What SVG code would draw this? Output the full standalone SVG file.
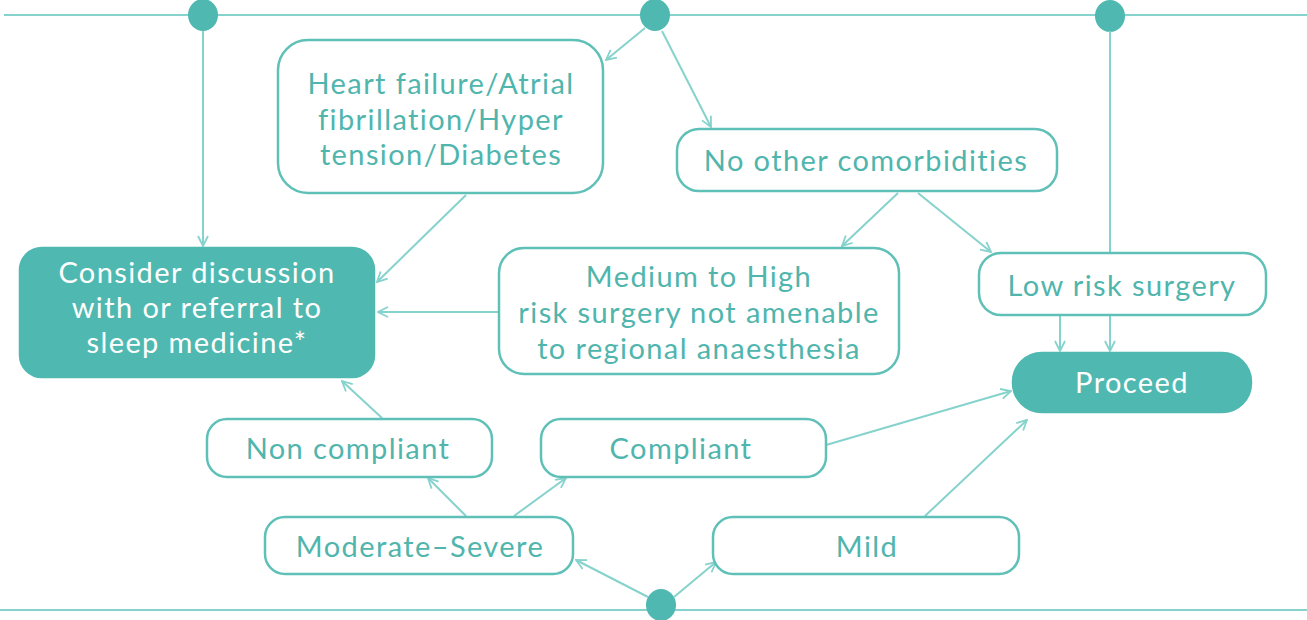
<svg xmlns="http://www.w3.org/2000/svg" width="1307" height="620" viewBox="0 0 1307 620">
<defs>
<style>
.box{fill:#fff;stroke:#5fc0b8;stroke-width:2.5}
.fill{fill:#4fb9b1;stroke:#4fb9b1;stroke-width:2.5}
.t{font-family:Lato,"Noto Sans",sans-serif;font-size:29px;letter-spacing:1.4px;fill:#4fb5ad;text-anchor:middle}
.tw{font-family:Lato,"Noto Sans",sans-serif;font-size:29px;letter-spacing:1.4px;fill:#fff;text-anchor:middle}
.c{stroke:#86d2cc;stroke-width:2;fill:none}
.a{stroke:#86d2cc;stroke-width:2;fill:none;marker-end:url(#ah)}
.dot{fill:#4fb9b1}
</style>
<marker id="ah" viewBox="0 0 12 12" refX="11" refY="6" markerWidth="12" markerHeight="12" markerUnits="userSpaceOnUse" orient="auto">
<path d="M1,1 L11,6 L1,11" fill="none" stroke="#86d2cc" stroke-width="1.8"/>
</marker>
</defs>
<rect width="1307" height="620" fill="#fff"/>
<g id="rails">
<line class="c" x1="4" y1="15" x2="1307" y2="15" stroke-width="3"/>
<line class="c" x1="0" y1="610" x2="1307" y2="610" stroke-width="3"/>
<ellipse class="dot" cx="203" cy="15" rx="15" ry="16"/>
<ellipse class="dot" cx="655" cy="15" rx="15" ry="16"/>
<ellipse class="dot" cx="1110" cy="16" rx="15" ry="16"/>
<ellipse class="dot" cx="661" cy="605" rx="15" ry="16"/>
</g>
<g id="connectors">
<line class="a" x1="203" y1="31" x2="203" y2="246"/>
<line class="a" x1="645" y1="28" x2="606" y2="60"/>
<line class="a" x1="662" y1="31" x2="711" y2="127"/>
<line class="a" x1="466" y1="195" x2="377" y2="282"/>
<line class="a" x1="898" y1="193" x2="842" y2="246"/>
<line class="a" x1="918" y1="193" x2="991" y2="252"/>
<line class="c" x1="1110" y1="31" x2="1110" y2="253"/>
<line class="a" x1="1110" y1="316" x2="1110" y2="351"/>
<line class="a" x1="1060" y1="316" x2="1060" y2="351"/>
<line class="a" x1="499" y1="312" x2="378" y2="312"/>
<line class="a" x1="382" y1="418" x2="342" y2="381"/>
<line class="a" x1="466" y1="516" x2="428" y2="478"/>
<line class="a" x1="514" y1="516" x2="566" y2="478"/>
<line class="a" x1="826" y1="445" x2="1011" y2="391"/>
<line class="a" x1="925" y1="516" x2="1027" y2="420"/>
<line class="a" x1="648" y1="597" x2="576" y2="560"/>
<line class="a" x1="674" y1="597" x2="716" y2="562"/>
</g>
<g id="heart"><rect class="box" x="278" y="40" width="325" height="153" rx="30"/>
<text class="t" x="441" y="94">Heart failure/Atrial</text>
<text class="t" x="441" y="130">fibrillation/Hyper</text>
<text class="t" x="441" y="165">tension/Diabetes</text></g>
<g id="nocomorb"><rect class="box" x="677" y="129" width="380" height="62" rx="22"/>
<text class="t" x="866" y="171">No other comorbidities</text></g>
<g id="consider"><rect class="fill" x="20" y="248" width="354" height="129" rx="22"/>
<text class="tw" x="197" y="283">Consider discussion</text>
<text class="tw" x="197" y="318">with or referral to</text>
<text class="tw" x="197" y="353">sleep medicine*</text></g>
<g id="medium"><rect class="box" x="499" y="248" width="400" height="126" rx="25"/>
<text class="t" x="699" y="287">Medium to High</text>
<text class="t" x="699" y="323">risk surgery not amenable</text>
<text class="t" x="699" y="359">to regional anaesthesia</text></g>
<g id="lowrisk"><rect class="box" x="979" y="253" width="287" height="62" rx="22"/>
<text class="t" x="1122" y="296">Low risk surgery</text></g>
<g id="proceed"><rect class="fill" x="1013" y="353" width="238" height="59" rx="29"/>
<text class="tw" x="1132" y="393">Proceed</text></g>
<g id="noncompliant"><rect class="box" x="207" y="419" width="285" height="58" rx="20"/>
<text class="t" x="348" y="459">Non compliant</text></g>
<g id="compliant"><rect class="box" x="541" y="419" width="285" height="58" rx="20"/>
<text class="t" x="681" y="459">Compliant</text></g>
<g id="modsev"><rect class="box" x="265" y="517" width="308" height="57" rx="20"/>
<text class="t" x="420" y="557">Moderate–Severe</text></g>
<g id="mild"><rect class="box" x="713" y="517" width="306" height="57" rx="20"/>
<text class="t" x="867" y="557">Mild</text></g>
</svg>
